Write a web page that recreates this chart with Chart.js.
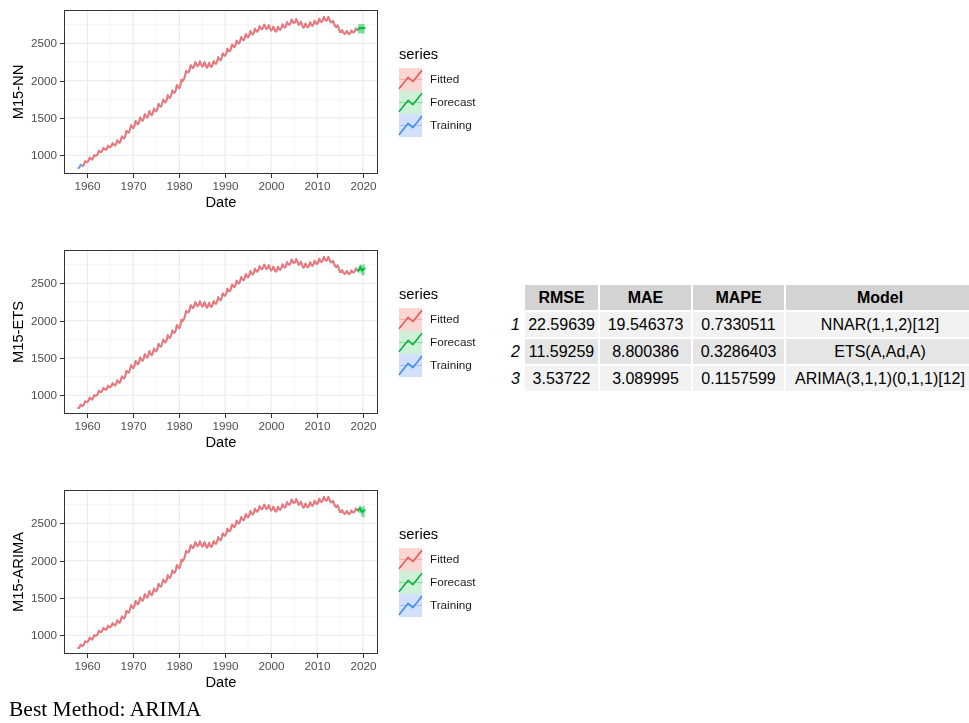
<!DOCTYPE html>
<html>
<head>
<meta charset="utf-8">
<script src="https://cdn.jsdelivr.net/npm/chart.js@4.4.1/dist/chart.umd.min.js"></script>
<style>
  html, body { margin: 0; padding: 0; background: #fff; width: 969px; height: 723px; overflow: hidden;
               font-family: "Liberation Sans", Arial, sans-serif; }
  canvas.panel { position: absolute; left: 0; }
  #p1 { top: 0; } #p2 { top: 240px; } #p3 { top: 480px; }
  #acc { position: absolute; left: 505px; top: 284px; display: grid;
         grid-template-columns: 19px 75px 93px 93px 190px; grid-auto-rows: 27px; font-size: 16px; color: #000; }
  #acc div { box-sizing: border-box; border: 1px solid #fff; display: flex; align-items: center;
             justify-content: center; white-space: nowrap; }
  #acc .hd { background: #D3D3D3; font-weight: bold; }
  #acc .odd { background: #F2F2F2; }
  #acc .even { background: #E5E5E5; }
  #acc .rn { font-style: italic; justify-content: flex-end; padding-right: 3px; }
  #acc .blank { background: transparent; }
  #best { position: absolute; left: 9px; top: 697px; font-family: "Liberation Serif", "Times New Roman", serif;
          font-size: 21.5px; color: #000; white-space: nowrap; }
</style>
</head>
<body>
<canvas id="p1" class="panel" width="480" height="240"></canvas>
<canvas id="p2" class="panel" width="480" height="240"></canvas>
<canvas id="p3" class="panel" width="480" height="240"></canvas>
<div id="acc"></div>
<div id="best">Best Method: ARIMA</div>
<script>
// Series M15, one value per quarter starting 1958 Q1 (four values per group = one year)
const startYear = 1958;
const stepYears = 0.25;
const trainingValues = [
   828,  833,  875,  862,   856,  878,  920,  908,   908,  929,  969,  956,   942,  963, 1005,  992,
   996, 1018, 1060, 1048,  1041, 1060, 1098, 1083,  1072, 1090, 1128, 1112,  1107, 1125, 1163, 1147,
  1131, 1152, 1200, 1179,  1165, 1194, 1253, 1231,  1225, 1261, 1331, 1307,  1303, 1337, 1405, 1379,
  1362, 1393, 1459, 1430,  1414, 1444, 1508, 1478,  1461, 1490, 1552, 1521,  1503, 1530, 1592, 1559,
  1534, 1564, 1628, 1598,  1590, 1622, 1690, 1662,  1651, 1683, 1749, 1721,  1705, 1737, 1805, 1777,
  1767, 1802, 1870, 1845,  1836, 1871, 1941, 1916,  1896, 1938, 2014, 1996,  2017, 2058, 2131, 2117,
  2111, 2142, 2207, 2183,  2168, 2191, 2248, 2216,  2193, 2210, 2259, 2221,  2188, 2201, 2248, 2206,
  2172, 2190, 2240, 2202,  2181, 2206, 2263, 2233,  2225, 2254, 2315, 2289,  2273, 2303, 2366, 2341,
  2332, 2362, 2427, 2402,  2393, 2423, 2486, 2461,  2445, 2474, 2535, 2509,  2497, 2524, 2585, 2557,
  2539, 2565, 2624, 2595,  2580, 2605, 2664, 2634,  2618, 2642, 2695, 2668,  2655, 2677, 2730, 2701,
  2687, 2705, 2752, 2719,  2691, 2703, 2744, 2705,  2671, 2683, 2724, 2685,  2656, 2674, 2723, 2690,
  2680, 2702, 2755, 2726,  2709, 2732, 2785, 2757,  2748, 2768, 2819, 2788,  2770, 2782, 2825, 2786,
  2747, 2755, 2792, 2749,  2709, 2722, 2765, 2727,  2715, 2734, 2783, 2751,  2733, 2753, 2804, 2773,
  2757, 2778, 2829, 2799,  2785, 2804, 2853, 2821,  2802, 2813, 2854, 2814,  2781, 2779, 2801, 2761,
  2723, 2720, 2740, 2699,  2650, 2652, 2678, 2642,  2626, 2634, 2666, 2636,  2623, 2637, 2673, 2649,
  2645, 2661, 2699, 2677
];

// NNAR needs a full seasonal lag before its first fitted value
const nnFirstFitted = 4;

// Forecast horizon
const forecastTime  = [2018.92, 2019.17, 2019.42, 2019.67, 2019.92, 2020.17, 2020.42];
const nnForecast    = [2688, 2695, 2708, 2698, 2702, 2706, 2704];
const nnLower       = [2628, 2630, 2636, 2630, 2630, 2632, 2630];
const nnUpper       = [2750, 2754, 2760, 2754, 2756, 2758, 2758];
const etsForecast   = [2665, 2680, 2720, 2685, 2670, 2692, 2700];
const etsLower      = [2630, 2635, 2665, 2622, 2600, 2612, 2615];
const etsUpper      = [2700, 2725, 2765, 2745, 2738, 2758, 2762];
const arimaForecast = [2672, 2688, 2700, 2662, 2652, 2668, 2676];
const arimaLower    = [2640, 2642, 2645, 2600, 2585, 2580, 2578];
const arimaUpper    = [2705, 2728, 2745, 2722, 2718, 2738, 2742];

// Accuracy table
const accModels = ["NNAR(1,1,2)[12]", "ETS(A,Ad,A)", "ARIMA(3,1,1)(0,1,1)[12]"];
const accRMSE = ["22.59639", "11.59259", "3.53722"];
const accMAE  = ["19.546373", "8.800386", "3.089995"];
const accMAPE = ["0.7330511", "0.3286403", "0.1157599"];

// Axis breaks
const xMajor = [1960, 1970, 1980, 1990, 2000, 2010, 2020];
const xMinor = [1955, 1965, 1975, 1985, 1995, 2005, 2015];
const yMajor = [1000, 1500, 2000, 2500];
const yMinor = [750, 1250, 1750, 2250, 2750];

const COL = { fitted: "#F8766D", forecast: "#00BA38", training: "#619CFF" };
const legendItems = [
  { label: "Fitted",   fill: "rgba(248,118,109,0.30)", mid: "rgba(248,118,109,0.45)", line: "#E5554A" },
  { label: "Forecast", fill: "rgba(0,186,56,0.20)",    mid: "rgba(0,186,56,0.35)",    line: "#00A83A" },
  { label: "Training", fill: "rgba(97,156,255,0.30)",  mid: "rgba(97,156,255,0.45)",  line: "#3A86F0" }
];

const FONT = '"Liberation Sans", Arial, sans-serif';
const trainTime = trainingValues.map((_, i) => startYear + i * stepYears);
const pts = (xs, ys) => xs.map((x, i) => ({ x, y: ys[i] }));

// theme_bw-like panel: grid behind the data, border, ticks, labels, titles and legend on top
const panelDecor = {
  id: "panelDecor",
  beforeDatasetsDraw(chart) {
    const { ctx, chartArea: a, scales: { x, y } } = chart;
    ctx.save();
    ctx.beginPath(); ctx.rect(a.left, a.top, a.right - a.left, a.bottom - a.top); ctx.clip();
    const vline = (v, w, c) => { const p = x.getPixelForValue(v); ctx.strokeStyle = c; ctx.lineWidth = w;
      ctx.beginPath(); ctx.moveTo(p, a.top); ctx.lineTo(p, a.bottom); ctx.stroke(); };
    const hline = (v, w, c) => { const p = y.getPixelForValue(v); ctx.strokeStyle = c; ctx.lineWidth = w;
      ctx.beginPath(); ctx.moveTo(a.left, p); ctx.lineTo(a.right, p); ctx.stroke(); };
    xMinor.forEach(v => vline(v, 0.7, "#F1F1F1"));
    yMinor.forEach(v => hline(v, 0.7, "#F1F1F1"));
    xMajor.forEach(v => vline(v, 1.2, "#EBEBEB"));
    yMajor.forEach(v => hline(v, 1.2, "#EBEBEB"));
    ctx.restore();
  },
  afterDraw(chart, args, opts) {
    const { ctx, chartArea: a, scales: { x, y } } = chart;
    ctx.save();
    ctx.strokeStyle = "#333333";
    ctx.lineWidth = 1;
    ctx.strokeRect(a.left + 0.5, a.top + 0.5, a.right - a.left - 1, a.bottom - a.top - 1);

    // tick marks and tick labels
    ctx.fillStyle = "#4D4D4D";
    ctx.font = "11.7px " + FONT;
    ctx.textAlign = "center"; ctx.textBaseline = "top";
    xMajor.forEach(v => {
      const p = Math.round(x.getPixelForValue(v)) + 0.5;
      ctx.beginPath(); ctx.moveTo(p, a.bottom); ctx.lineTo(p, a.bottom + 4); ctx.stroke();
      ctx.fillText(String(v), p, a.bottom + 7);
    });
    ctx.textAlign = "right"; ctx.textBaseline = "middle";
    yMajor.forEach(v => {
      const p = Math.round(y.getPixelForValue(v)) + 0.5;
      ctx.beginPath(); ctx.moveTo(a.left - 4, p); ctx.lineTo(a.left, p); ctx.stroke();
      ctx.fillText(String(v), a.left - 7, p);
    });

    // axis titles
    ctx.fillStyle = "#000";
    ctx.font = "14.7px " + FONT;
    ctx.textAlign = "center";
    ctx.textBaseline = "middle";
    ctx.fillText("Date", (a.left + a.right) / 2, 203);
    ctx.save();
    ctx.translate(19, (a.top + a.bottom) / 2);
    ctx.rotate(-Math.PI / 2);
    ctx.fillText(opts.yTitle, 0, 0);
    ctx.restore();

    // legend
    ctx.textAlign = "left";
    ctx.fillText("series", 399, 55);
    legendItems.forEach((it, k) => {
      const x0 = 399, y0 = 68 + k * 23, w = 23, h = 23;
      ctx.fillStyle = it.fill;
      ctx.fillRect(x0, y0, w, h);
      ctx.strokeStyle = it.mid;
      ctx.lineWidth = 1;
      ctx.beginPath(); ctx.moveTo(x0, y0 + h / 2); ctx.lineTo(x0 + w, y0 + h / 2); ctx.stroke();
      ctx.strokeStyle = it.line;
      ctx.lineWidth = 1.4;
      ctx.lineJoin = "round";
      ctx.beginPath();
      ctx.moveTo(x0, y0 + 0.9 * h);
      ctx.lineTo(x0 + 0.4 * w, y0 + 0.4 * h);
      ctx.lineTo(x0 + 0.6 * w, y0 + 0.6 * h);
      ctx.lineTo(x0 + w, y0 + 0.1 * h);
      ctx.stroke();
      ctx.fillStyle = "#1A1A1A";
      ctx.font = "11.7px " + FONT;
      ctx.fillText(it.label, 430, y0 + h / 2 + 0.5);
    });
    ctx.restore();
  }
};

function makePanel(id, yTitle, fittedValues, fc, lo, hi) {
  new Chart(document.getElementById(id), {
    type: "line",
    data: {
      datasets: [
        { data: pts(forecastTime, fc), borderColor: COL.forecast, borderWidth: 1.8, pointRadius: 0, tension: 0, fill: false },
        { data: pts(forecastTime, hi), borderWidth: 0, pointRadius: 0, tension: 0,
          backgroundColor: "rgba(0,186,56,0.5)", fill: "+1" },
        { data: pts(forecastTime, lo), borderWidth: 0, pointRadius: 0, tension: 0, fill: false },
        { data: pts(trainTime, fittedValues), borderColor: COL.fitted, borderWidth: 1.8, pointRadius: 0, tension: 0,
          fill: false, spanGaps: false },
        { data: pts(trainTime, trainingValues), borderColor: COL.training, borderWidth: 1.8, pointRadius: 0, tension: 0, fill: false }
      ]
    },
    options: {
      responsive: false, animation: false, events: [],
      layout: { padding: { top: 10, right: 102, left: 64, bottom: 66 } },
      scales: {
        x: { type: "linear", min: 1954.9, max: 2023.3, display: false },
        y: { type: "linear", min: 749, max: 2946, display: false }
      },
      plugins: { legend: { display: false }, tooltip: { enabled: false }, panelDecor: { yTitle } },
      elements: { line: { borderJoinStyle: "round", borderCapStyle: "round" } }
    },
    plugins: [panelDecor]
  });
}

const nnFitted = trainingValues.map((v, i) => i < nnFirstFitted ? null : v);
makePanel("p1", "M15-NN", nnFitted, nnForecast, nnLower, nnUpper);
makePanel("p2", "M15-ETS", trainingValues, etsForecast, etsLower, etsUpper);
makePanel("p3", "M15-ARIMA", trainingValues, arimaForecast, arimaLower, arimaUpper);

// accuracy table
const acc = document.getElementById("acc");
const cell = (txt, cls) => { const d = document.createElement("div"); d.className = cls; d.textContent = txt; acc.appendChild(d); };
cell("", "blank");
["RMSE", "MAE", "MAPE", "Model"].forEach(h => cell(h, "hd"));
accModels.forEach((m, r) => {
  const cls = r % 2 === 0 ? "odd" : "even";
  cell(String(r + 1), "rn");
  cell(accRMSE[r], cls); cell(accMAE[r], cls); cell(accMAPE[r], cls); cell(m, cls);
});
</script>
</body>
</html>
